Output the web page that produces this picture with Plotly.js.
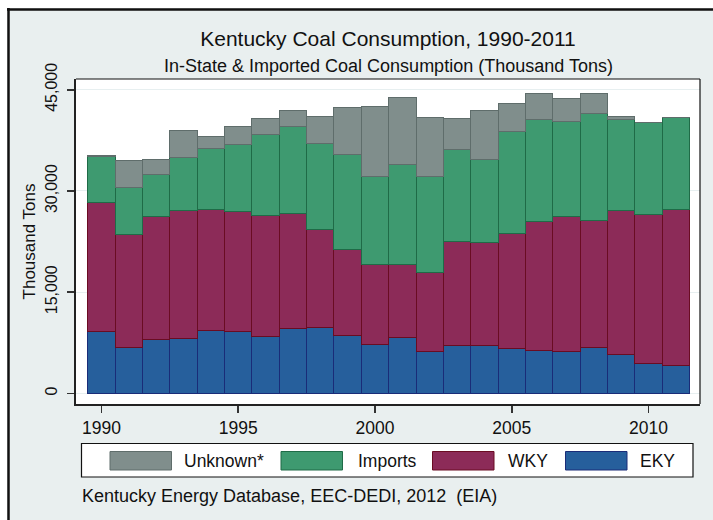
<!DOCTYPE html>
<html>
<head>
<meta charset="utf-8">
<script src="https://cdn.plot.ly/plotly-3.0.1.min.js"></script>
<style>html,body{margin:0;padding:0;background:#fff}#chart{width:713px;height:520px}</style>
</head>
<body>
<div id="chart"></div>
<script>
const years = [1990,1991,1992,1993,1994,1995,1996,1997,1998,1999,2000,2001,2002,2003,2004,2005,2006,2007,2008,2009,2010,2011];
const eky = [9150,6810,7960,8150,9300,9150,8400,9600,9830,8600,7210,8250,6170,7060,7110,6620,6360,6170,6810,5720,4430,4130];
const wky = [19120,16690,18320,19030,17970,17880,18030,17130,14450,12770,11920,10880,11770,15500,15300,17030,19180,20010,18770,21350,22090,23090];
const imports = [6890,7000,6110,7750,9000,9830,11920,12810,12730,14010,13050,14750,14150,13560,12220,15150,15050,14110,15900,13520,13620,13710];
const unknown = [100,4020,2280,4110,1790,2680,2430,2380,4020,7000,10340,9980,8790,4660,7350,4170,3920,3430,3020,390,0,0];
const seriesNames = ["EKY","WKY","Imports","Unknown*"];
const yTicks = [0,15000,30000,45000];
const xTicks = [1990,1995,2000,2005,2010];
const titleText = "Kentucky Coal Consumption, 1990-2011";
const subtitleText = "In-State & Imported Coal Consumption (Thousand Tons)";
const yTitleText = "Thousand Tons";
const sourceText = "Kentucky Energy Database, EEC-DEDI, 2012\u00a0\u00a0(EIA)";

const fills = ["#265f9c","#8c2b58","#3e9a70","#808e8c"];
const edges = ["#1a2c78","#6a0c22","#1f6b47","#5f6d6b"];
const seriesData = [eky, wky, imports, unknown];

const W = 713, H = 520;
const M = {l:76, r:13, t:79, b:116};
const PW = W - M.l - M.r, PH = H - M.t - M.b;
const px = x => (x - M.l) / PW;
const py = y => (H - M.b - y) / PH;

const FONT = "Liberation Sans, Arial, Helvetica, sans-serif";
const NARROW = "Liberation Sans Narrow, Arial Narrow, Liberation Sans, sans-serif";

const traces = seriesData.map((d, i) => ({
  type: "bar", x: years, y: d, name: seriesNames[i], width: 1,
  marker: {color: fills[i], line: {color: edges[i], width: 1}},
  showlegend: false, hoverinfo: "x+y+name"
}));

const shapes = [];
const annotations = [];
// outer graph frame (cropped on right/bottom)
shapes.push({type:"rect", xref:"paper", yref:"paper", x0:px(-50), x1:px(7.5), y0:py(600), y1:py(-50), fillcolor:"#ffffff", line:{width:0}, layer:"above"});
shapes.push({type:"rect", xref:"paper", yref:"paper", x0:px(-50), x1:px(800), y0:py(8), y1:py(-50), fillcolor:"#ffffff", line:{width:0}, layer:"above"});
shapes.push({type:"line", xref:"paper", yref:"paper", x0:px(8.5), x1:px(8.5), y0:py(8), y1:py(600), line:{color:"#111", width:2.5}, layer:"above"});
shapes.push({type:"line", xref:"paper", yref:"paper", x0:px(7), x1:px(800), y0:py(9.5), y1:py(9.5), line:{color:"#111", width:2.5}, layer:"above"});
// plot region frame (top/right)
shapes.push({type:"line", xref:"paper", yref:"paper", x0:0, x1:1, y0:1, y1:1, line:{color:"#111", width:1.2}, layer:"above"});
shapes.push({type:"line", xref:"paper", yref:"paper", x0:1, x1:1, y0:0, y1:1, line:{color:"#111", width:1.2}, layer:"above"});

// legend box
shapes.push({type:"rect", xref:"paper", yref:"paper", x0:px(81.5), x1:px(693), y0:py(477), y1:py(443.5), fillcolor:"#ffffff", line:{color:"#111", width:1.2}, layer:"above"});
const legendOrder = [3,2,1,0];
const swatchX = [110, 281, 432.5, 565.5];
const textX = [182, 356, 506, 638];
legendOrder.forEach((si, k) => {
  shapes.push({type:"rect", xref:"paper", yref:"paper", x0:px(swatchX[k]), x1:px(swatchX[k]+61.5), y0:py(470), y1:py(451.5), fillcolor:fills[si], line:{color:edges[si], width:1}, layer:"above"});
  annotations.push({xref:"paper", yref:"paper", x:px(textX[k]), y:py(461), xanchor:"left", yanchor:"middle", text:seriesNames[si], showarrow:false, font:{family:FONT, size:17.5, color:"#111"}});
});

annotations.push({xref:"paper", yref:"paper", x:px(388), y:py(66), xanchor:"center", yanchor:"middle", text:subtitleText, showarrow:false, font:{family:FONT, size:18, color:"#111"}});
annotations.push({xref:"paper", yref:"paper", x:px(80), y:py(495.5), xanchor:"left", yanchor:"middle", text:sourceText, showarrow:false, font:{family:FONT, size:18, color:"#111"}});

const layout = {
  width: W, height: H,
  margin: M,
  paper_bgcolor: "#e9efef",
  plot_bgcolor: "#ffffff",
  barmode: "stack", bargap: 0,
  title: {text: titleText, x: 0.5, xref: "paper", xanchor: "center", y: 1 - 39/H, yref: "container", yanchor: "middle", font: {family: FONT, size: 21, color: "#111"}},
  xaxis: {range: [1989.07, 2011.88], tickvals: xTicks, ticks: "outside", ticklen: 7, tickwidth: 1.5, tickcolor: "#333",
    showline: true, linecolor: "#222", linewidth: 2, showgrid: false, zeroline: false,
    tickfont: {family: FONT, size: 17.5, color: "#111"}, fixedrange: true},
  yaxis: {range: [-1580, 46600], tickvals: yTicks, tickformat: ",d", tickangle: -90, ticks: "outside", ticklen: 7, tickwidth: 1.5, tickcolor: "#333",
    showline: true, linecolor: "#222", linewidth: 2, showgrid: true, gridcolor: "#e7eff0", gridwidth: 1, zeroline: false,
    ticklabelstandoff: 4,
    tickfont: {family: NARROW, size: 16, color: "#111"},
    title: {text: yTitleText, standoff: 3, font: {family: FONT, size: 17, color: "#111"}}, fixedrange: true},
  shapes: shapes,
  annotations: annotations
};

Plotly.newPlot("chart", traces, layout, {displayModeBar: false, staticPlot: true});
</script>
</body>
</html>
